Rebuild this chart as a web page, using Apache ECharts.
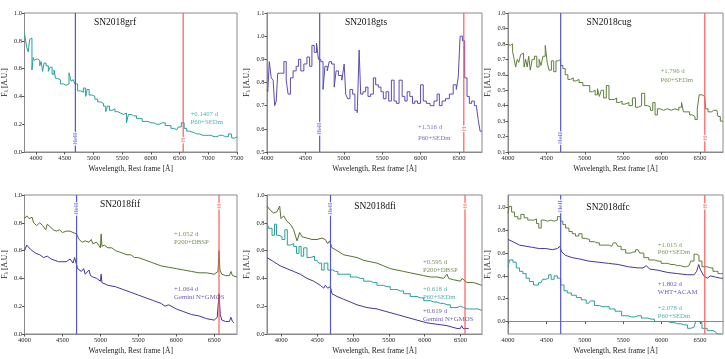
<!DOCTYPE html>
<html>
<head>
  <meta charset="utf-8">
  <title>spectra</title>
  <script src="https://cdn.jsdelivr.net/npm/echarts@6/dist/echarts.min.js"></script>
  <style>
    html, body { margin: 0; padding: 0; background: #fff; }
    #chart { width: 725px; height: 359px; }
  </style>
</head>
<body>
<div id="chart"></div>
<script>
  // ---- data ----
  // SN2018grf, P60+SEDm
  var grfWl = [3800,3830,3850,3880,3900,3920,3940,3960,3980,4000,
    4050,4080,4100,4130,4150,4200,4230,4260,4300,4330,
    4350,4400,4450,4500,4550,4600,4620,4650,4700,4750,
    4800,4850,4880,4900,4950,5000,5050,5100,5150,5200,
    5230,5260,5300,5350,5400,5450,5500,5550,5600,5620,
    5700,5800,5900,6000,6100,6200,6300,6400,6450,6500,
    6560,6600,6650,6700,6800,6900,7000,7100,7200,7300,
    7400,7420,7500];
  var grfFl = [0.85,0.84,0.75,0.72,0.81,0.82,0.59,0.68,0.66,0.67,
    0.66,0.62,0.65,0.58,0.64,0.62,0.58,0.61,0.56,0.59,
    0.53,0.52,0.49,0.48,0.49,0.57,0.51,0.52,0.49,0.44,
    0.43,0.46,0.40,0.45,0.41,0.40,0.38,0.36,0.35,0.33,
    0.29,0.33,0.30,0.31,0.29,0.28,0.27,0.28,0.21,0.27,
    0.26,0.24,0.22,0.21,0.20,0.21,0.19,0.17,0.16,0.18,
    0.21,0.17,0.15,0.14,0.13,0.12,0.12,0.11,0.12,0.11,
    0.13,0.10,0.11];

  // SN2018gts, P60+SEDm
  var gtsWl = [4000,4020,4040,4070,4090,4110,4130,4150,4200,4240,
    4260,4290,4320,4360,4400,4420,4460,4500,4540,4570,
    4600,4630,4660,4680,4720,4740,4770,4800,4820,4860,
    4890,4910,4950,5000,5010,5040,5060,5100,5130,5160,
    5190,5210,5230,5270,5300,5330,5370,5400,5430,5470,
    5500,5530,5570,5600,5640,5670,5700,5740,5780,5810,
    5840,5880,5910,5940,5980,6020,6050,6100,6150,6200,
    6230,6260,6300,6350,6400,6450,6480,6500,6530,6560,
    6590,6620,6650,6680,6720,6740,6760,6790,6800];
  var gtsFl = [0.77,0.76,0.89,0.82,0.81,0.70,0.72,0.84,0.84,0.89,
    0.81,0.75,0.82,0.85,0.87,0.90,0.85,0.88,0.91,0.87,
    0.96,0.93,0.97,0.90,0.89,0.77,0.87,0.85,0.89,0.88,
    0.78,0.85,0.83,0.81,0.88,0.75,0.73,0.77,0.75,0.68,
    0.67,0.94,0.75,0.76,0.78,0.74,0.75,0.82,0.79,0.78,
    0.76,0.73,0.76,0.72,0.81,0.72,0.71,0.81,0.74,0.72,
    0.76,0.74,0.71,0.72,0.71,0.79,0.72,0.71,0.70,0.72,
    0.75,0.70,0.72,0.73,0.75,0.79,0.77,0.82,1.00,0.98,
    0.82,0.74,0.71,0.72,0.70,0.69,0.64,0.59,0.59];

  // SN2018cug, P60+SEDm
  var cugWl = [4000,4030,4050,4070,4090,4110,4130,4150,4180,4200,
    4220,4240,4260,4280,4300,4330,4360,4390,4420,4440,
    4470,4500,4520,4550,4580,4610,4640,4670,4700,4730,
    4760,4800,4830,4870,4900,4950,5000,5050,5080,5120,
    5150,5180,5200,5230,5260,5300,5330,5370,5400,5430,
    5470,5500,5550,5600,5640,5680,5720,5760,5800,5840,
    5870,5900,5930,5960,6000,6050,6100,6150,6200,6250,
    6270,6300,6350,6380,6420,6450,6480,6500,6530,6560,
    6590,6620,6680,6720,6750,6780,6800];
  var cugFl = [0.80,0.79,0.80,0.75,0.70,0.65,0.70,0.68,0.73,0.74,
    0.65,0.70,0.65,0.72,0.63,0.70,0.72,0.65,0.70,0.66,
    0.72,0.79,0.68,0.63,0.69,0.62,0.69,0.70,0.66,0.64,
    0.60,0.57,0.58,0.56,0.57,0.55,0.53,0.53,0.49,0.50,
    0.47,0.51,0.46,0.50,0.45,0.53,0.44,0.44,0.45,0.42,
    0.43,0.41,0.42,0.40,0.45,0.39,0.40,0.48,0.40,0.39,
    0.37,0.42,0.34,0.38,0.37,0.38,0.37,0.38,0.37,0.39,
    0.42,0.36,0.36,0.34,0.33,0.31,0.38,0.47,0.47,0.46,
    0.38,0.36,0.37,0.37,0.33,0.30,0.30];

  // SN2018fif, P200+DBSP and Gemini N+GMOS
  var fifDbspWl = [4000,4030,4060,4100,4120,4160,4200,4240,4280,4300,
    4340,4380,4420,4460,4500,4550,4600,4640,4686,4720,
    4760,4800,4850,4880,4900,4950,5000,5010,5020,5050,
    5100,5150,5200,5250,5300,5350,5400,5450,5500,5600,
    5700,5800,5900,6000,6100,6200,6300,6400,6500,6550,
    6563,6575,6600,6650,6700,6720,6740,6800];
  var fifDbspFl = [0.83,0.85,0.83,0.84,0.80,0.78,0.80,0.78,0.75,0.79,
    0.77,0.75,0.74,0.75,0.73,0.74,0.74,0.73,0.72,0.68,
    0.66,0.67,0.66,0.68,0.65,0.66,0.62,0.72,0.63,0.64,
    0.62,0.62,0.60,0.59,0.58,0.57,0.57,0.55,0.55,0.53,
    0.51,0.49,0.48,0.47,0.46,0.45,0.44,0.44,0.43,0.45,
    0.60,0.46,0.43,0.42,0.42,0.45,0.42,0.41];
  var fifGmosWl = [4000,4030,4060,4100,4150,4200,4250,4300,4350,4400,
    4450,4500,4550,4600,4640,4660,4686,4700,4750,4780,
    4800,4850,4870,4900,4950,5000,5010,5020,5100,5200,
    5300,5400,5500,5600,5700,5800,5850,5900,6000,6100,
    6200,6300,6400,6500,6540,6563,6580,6600,6650,6700,
    6720,6740,6760];
  var fifGmosFl = [0.60,0.64,0.62,0.60,0.58,0.57,0.55,0.56,0.54,0.53,
    0.52,0.52,0.52,0.54,0.51,0.55,0.54,0.47,0.45,0.47,
    0.43,0.46,0.42,0.41,0.40,0.38,0.43,0.37,0.35,0.34,
    0.32,0.30,0.28,0.26,0.24,0.22,0.20,0.21,0.18,0.16,
    0.14,0.13,0.11,0.10,0.12,0.29,0.14,0.10,0.09,0.09,
    0.12,0.09,0.08];

  // SN2018dfi, P200+DBSP, P60+SEDm, Gemini N+GMOS
  var dfiDbspWl = [3800,3847,3893,3940,3977,3995,4033,4079,4126,4172,
    4219,4256,4288,4358,4428,4498,4567,4614,4646,4674,
    4707,4777,4870,4963,5056,5149,5242,5335,5428,5521,
    5614,5707,5800,5893,5986,6079,6172,6265,6312,6335,
    6405,6498,6521,6591,6684,6800];
  var dfiDbspFl = [0.92,0.89,0.87,0.88,0.92,0.83,0.85,0.81,0.79,0.75,
    0.67,0.73,0.70,0.69,0.68,0.68,0.69,0.68,0.65,0.67,
    0.62,0.60,0.57,0.56,0.55,0.53,0.52,0.51,0.49,0.47,
    0.46,0.45,0.44,0.43,0.42,0.41,0.41,0.40,0.43,0.40,
    0.39,0.38,0.40,0.37,0.37,0.35];
  var dfiSedmWl = [3800,3847,3893,3916,3949,3986,4033,4065,4102,4149,
    4195,4228,4265,4288,4335,4381,4428,4498,4544,4581,
    4614,4684,4753,4823,4916,5009,5102,5195,5288,5381,
    5474,5567,5660,5753,5846,5940,6033,6126,6219,6312,
    6405,6498,6544,6591,6684,6800];
  var dfiSedmFl = [0.80,0.76,0.71,0.79,0.71,0.70,0.68,0.75,0.64,0.65,
    0.63,0.58,0.63,0.56,0.62,0.55,0.56,0.53,0.51,0.46,
    0.51,0.46,0.45,0.43,0.43,0.41,0.40,0.38,0.37,0.35,
    0.34,0.32,0.31,0.29,0.27,0.26,0.24,0.23,0.22,0.21,
    0.19,0.20,0.19,0.18,0.18,0.17];
  var dfiGmosWl = [3800,3893,3986,4079,4172,4265,4358,4451,4544,4591,
    4614,4646,4684,4707,4777,4870,4963,5056,5195,5335,
    5474,5614,5753,5893,6033,6172,6312,6451,6498,6516,
    6535,6614];
  var dfiGmosFl = [0.55,0.52,0.49,0.47,0.45,0.43,0.40,0.38,0.35,0.33,
    0.35,0.33,0.34,0.29,0.27,0.25,0.23,0.21,0.19,0.18,
    0.16,0.14,0.12,0.10,0.08,0.07,0.06,0.04,0.04,0.06,
    0.04,0.04];

  // SN2018dfc, P60+SEDm (+1.015 d), WHT+ACAM, P60+SEDm (+2.078 d)
  var dfcSedm1Wl = [4000,4030,4064,4107,4150,4184,4236,4279,4322,4356,
    4386,4416,4450,4493,4536,4579,4622,4665,4700,4729,
    4772,4815,4858,4900,4943,4986,5029,5094,5158,5222,
    5286,5351,5394,5415,5445,5501,5565,5630,5694,5737,
    5801,5865,5951,6037,6123,6208,6294,6358,6401,6444,
    6474,6500,6552,6637,6702,6766,6800];
  var dfcSedm1Fl = [0.95,1.01,0.96,0.92,0.90,0.94,0.91,0.89,0.89,0.90,
    0.86,0.82,0.89,0.88,0.89,0.88,0.89,0.92,0.88,0.85,
    0.82,0.79,0.77,0.75,0.77,0.73,0.72,0.70,0.69,0.67,
    0.67,0.66,0.69,0.70,0.66,0.63,0.60,0.61,0.63,0.60,
    0.56,0.54,0.53,0.51,0.50,0.49,0.48,0.49,0.53,0.59,
    0.58,0.53,0.48,0.47,0.44,0.42,0.42];
  var dfcAcamWl = [4000,4064,4150,4236,4322,4407,4493,4579,4643,4673,
    4700,4751,4836,4922,5051,5179,5308,5437,5565,5694,
    5758,5801,5844,5951,6080,6208,6337,6423,6457,6483,
    6508,6551,6594,6637,6702,6766,6800];
  var dfcAcamFl = [0.72,0.70,0.67,0.66,0.65,0.64,0.64,0.63,0.64,0.66,
    0.61,0.58,0.56,0.55,0.53,0.52,0.51,0.50,0.48,0.47,
    0.47,0.49,0.46,0.45,0.43,0.42,0.41,0.41,0.44,0.50,
    0.45,0.40,0.38,0.40,0.39,0.38,0.38];
  var dfcSedm2Wl = [4000,4043,4086,4129,4172,4215,4257,4300,4365,4429,
    4472,4515,4545,4579,4622,4665,4708,4751,4793,4858,
    4922,4986,5051,5094,5158,5222,5286,5351,5437,5522,
    5608,5694,5780,5865,5951,6037,6123,6208,6294,6380,
    6423,6465,6500,6551,6637,6702,6744,6800];
  var dfcSedm2Fl = [0.48,0.54,0.52,0.47,0.44,0.42,0.38,0.35,0.32,0.34,
    0.37,0.38,0.41,0.37,0.40,0.38,0.32,0.27,0.25,0.23,
    0.21,0.19,0.16,0.18,0.14,0.13,0.13,0.11,0.09,0.05,
    0.04,0.05,0.03,0.02,0.00,0.00,-0.01,-0.02,-0.03,-0.06,
    -0.05,0.00,-0.01,-0.06,-0.08,-0.09,-0.11,-0.12];

  var heII = 4686, hAlpha = 6563;
  var xTicksWide = [4000, 4500, 5000, 5500, 6000, 6500, 7000, 7500];
  var xTicks = [4000, 4500, 5000, 5500, 6000, 6500];
  var yTicksDfc = [0, 0.2, 0.4, 0.6, 0.8, 1.0];

  // ---- styles ----
  var FONT = "'Liberation Serif', 'DejaVu Serif', serif";
  var TEAL = '#26a29a', OLIVE = '#56722f', OLIVE2 = '#5f7f3a', PURPLE = '#45369c', PURPLE2 = '#5a4db0';
  var BLUE = '#5555d8', RED = '#ff5a5a';

  function pairs(wl, fl) {
    return wl.map(function (w, i) { return [w, fl[i]]; });
  }

  // panel layout: left/top in px, axis ranges, spectra and notes
  var panels = [
    { name: 'SN2018grf', left: 22, top: 13, xmin: 3800, xmax: 7500, xticks: xTicksWide,
      ymin: 0, ymax: 1, yint: 0.2, titleX: 110, titleY: 12,
      spectra: [{ wl: grfWl, fl: grfFl, color: TEAL, step: true }],
      notes: [{ x: 6690, y: 0.246, text: '+0.1407 d\nP60+SEDm', color: TEAL, lh: 8 }],
      heY: 0.095, hY: 0.085 },
    { name: 'SN2018gts', left: 267, top: 13, xmin: 4000, xmax: 6800, xticks: xTicks,
      ymin: 0.5, ymax: 1.1, yint: 0.1, titleX: 361, titleY: 12,
      spectra: [{ wl: gtsWl, fl: gtsFl, color: PURPLE2, step: true }],
      notes: [{ x: 5965, y: 0.584, text: '+1.516 d\nP60+SEDm', color: PURPLE2, lh: 11 }],
      heY: 0.6, hY: 0.6 },
    { name: 'SN2018cug', left: 508, top: 13, xmin: 4000, xmax: 6800, xticks: xTicks,
      ymin: 0.1, ymax: 1.0, yint: 0.1, titleX: 604, titleY: 12,
      spectra: [{ wl: cugWl, fl: cugFl, color: OLIVE2, step: true }],
      notes: [{ x: 5985, y: 0.5925, text: '+1.796 d\nP60+SEDm', color: OLIVE2, lh: 8.5 }],
      heY: 0.19, hY: 0.19 },
    { name: 'SN2018fif', left: 22, top: 195, xmin: 4000, xmax: 6800, xticks: xTicks,
      ymin: 0, ymax: 1, yint: 0.2, titleX: 115, titleY: 194,
      spectra: [{ wl: fifDbspWl, fl: fifDbspFl, color: OLIVE, step: false },
        { wl: fifGmosWl, fl: fifGmosFl, color: PURPLE, step: false }],
      notes: [{ x: 5970, y: 0.686, text: '+1.052 d\nP200+DBSP', color: OLIVE, lh: 8 },
        { x: 5970, y: 0.293, text: '+1.064 d\nGemini N+GMOS', color: PURPLE, lh: 8 }],
      heY: 0.9, hY: 0.92 },
    { name: 'SN2018dfi', left: 267, top: 195, xmin: 3800, xmax: 6800, xticks: xTicks,
      ymin: 0, ymax: 1, yint: 0.2, titleX: 370, titleY: 196,
      spectra: [{ wl: dfiDbspWl, fl: dfiDbspFl, color: OLIVE, step: false },
        { wl: dfiSedmWl, fl: dfiSedmFl, color: TEAL, step: true },
        { wl: dfiGmosWl, fl: dfiGmosFl, color: PURPLE, step: false }],
      notes: [{ x: 5975, y: 0.49, text: '+0.595 d\nP200+DBSP', color: OLIVE, lh: 8 },
        { x: 5975, y: 0.295, text: '+0.618 d\nP60+SEDm', color: TEAL, lh: 8 },
        { x: 5975, y: 0.137, text: '+0.619 d\nGemini N+GMOS', color: PURPLE, lh: 8 }],
      heY: 0.9, hY: 0.92 },
    { name: 'SN2018dfc', left: 508, top: 195, xmin: 4000, xmax: 6800, xticks: xTicks,
      ymin: -0.11, ymax: 1.11, yticks: yTicksDfc, titleX: 603, titleY: 197,
      spectra: [{ wl: dfcSedm1Wl, fl: dfcSedm1Fl, color: OLIVE2, step: true },
        { wl: dfcAcamWl, fl: dfcAcamFl, color: PURPLE, step: false },
        { wl: dfcSedm2Wl, fl: dfcSedm2Fl, color: TEAL, step: true }],
      notes: [{ x: 5950, y: 0.638, text: '+1.015 d\nP60+SEDm', color: OLIVE2, lh: 7.5 },
        { x: 5950, y: 0.294, text: '+1.802 d\nWHT+ACAM', color: PURPLE, lh: 7.5 },
        { x: 5950, y: 0.08, text: '+2.078 d\nP60+SEDm', color: TEAL, lh: 7.5 }],
      heY: 1.01, hY: 1.01 }
  ];

  var W = 215, H = 139;
  var grids = [], xAxes = [], yAxes = [], series = [], titles = [];

  panels.forEach(function (p, k) {
    grids.push({ left: p.left, top: p.top, width: W, height: H, show: true,
      borderColor: '#8a8a8a', borderWidth: 1, backgroundColor: 'transparent' });
    titles.push({ text: p.name, left: p.titleX, top: p.titleY, textAlign: 'center',
      textStyle: { fontFamily: FONT, fontSize: 9.5, fontWeight: 'normal', color: '#111' } });

    xAxes.push({
      gridIndex: k, type: 'value', min: p.xmin, max: p.xmax,
      name: 'Wavelength, Rest frame [Å]', nameLocation: 'middle', nameGap: 13,
      nameTextStyle: { fontFamily: FONT, fontSize: 7.5, color: '#222' },
      axisLine: { show: true, lineStyle: { color: '#8a8a8a', width: 1 } },
      axisTick: { show: true, length: 2.5, customValues: p.xticks, lineStyle: { color: '#555' } },
      axisLabel: { customValues: p.xticks, fontFamily: FONT, fontSize: 6.5, color: '#222', margin: 2.5,
        formatter: function (v) { return String(v); } },
      splitLine: { show: false }
    });

    var yax = {
      gridIndex: k, type: 'value', min: p.ymin, max: p.ymax,
      name: '{f|F}{s|λ} [A.U.]', nameLocation: 'middle', nameGap: 15,
      nameTextStyle: { fontFamily: FONT, fontSize: 7.5, color: '#222',
        rich: { f: { fontFamily: FONT, fontSize: 7.5, color: '#222' },
                s: { fontFamily: FONT, fontSize: 5.5, color: '#222', padding: [3, 0, 0, 0] } } },
      axisLine: { show: true, lineStyle: { color: '#8a8a8a', width: 1 } },
      axisTick: { show: true, length: 2.5, lineStyle: { color: '#555' } },
      axisLabel: { fontFamily: FONT, fontSize: 6.5, color: '#222', margin: 2.5,
        formatter: function (v) { return v.toFixed(1); } },
      splitLine: { show: false }
    };
    if (p.yticks) {
      yax.axisLabel.customValues = p.yticks;
      yax.axisTick.customValues = p.yticks;
    } else {
      yax.interval = p.yint;
    }
    yAxes.push(yax);

    p.spectra.forEach(function (s) {
      series.push({
        type: 'line', xAxisIndex: k, yAxisIndex: k,
        data: pairs(s.wl, s.fl), step: s.step ? 'middle' : false,
        showSymbol: false, symbol: 'none', silent: true, z: 3,
        lineStyle: { color: s.color, width: 1 }
      });
    });

    // HeII and H rest wavelengths, spanning the panel height
    [[heII, BLUE], [hAlpha, RED]].forEach(function (l) {
      series.push({
        type: 'line', xAxisIndex: k, yAxisIndex: k, silent: true, z: 4,
        showSymbol: false, symbol: 'none',
        data: [[l[0], p.ymin], [l[0], p.ymax]],
        lineStyle: { color: l[1], width: 1.2 }
      });
    });

    // line labels
    series.push({
      type: 'scatter', xAxisIndex: k, yAxisIndex: k, symbolSize: 0, silent: true, z: 6,
      data: [
        { value: [heII, p.heY], label: { formatter: 'HeII', color: BLUE } },
        { value: [hAlpha, p.hY], label: { formatter: 'H', color: RED } }
      ],
      label: { show: true, position: 'inside', rotate: 90, fontFamily: FONT, fontSize: 6.5,
        backgroundColor: '#fff', padding: [0, 1] }
    });

    // epoch / instrument notes
    series.push({
      type: 'scatter', xAxisIndex: k, yAxisIndex: k, symbolSize: 0, silent: true, z: 6,
      data: p.notes.map(function (n) {
        return { value: [n.x, n.y], label: { formatter: n.text, color: n.color, lineHeight: n.lh } };
      }),
      label: { show: true, position: 'right', distance: 0, fontFamily: FONT, fontSize: 6.8, align: 'left' }
    });
  });

  var chart = echarts.init(document.getElementById('chart'), null, { renderer: 'canvas' });
  chart.setOption({
    animation: false,
    backgroundColor: '#fff',
    title: titles,
    grid: grids,
    xAxis: xAxes,
    yAxis: yAxes,
    series: series
  });
</script>
</body>
</html>
